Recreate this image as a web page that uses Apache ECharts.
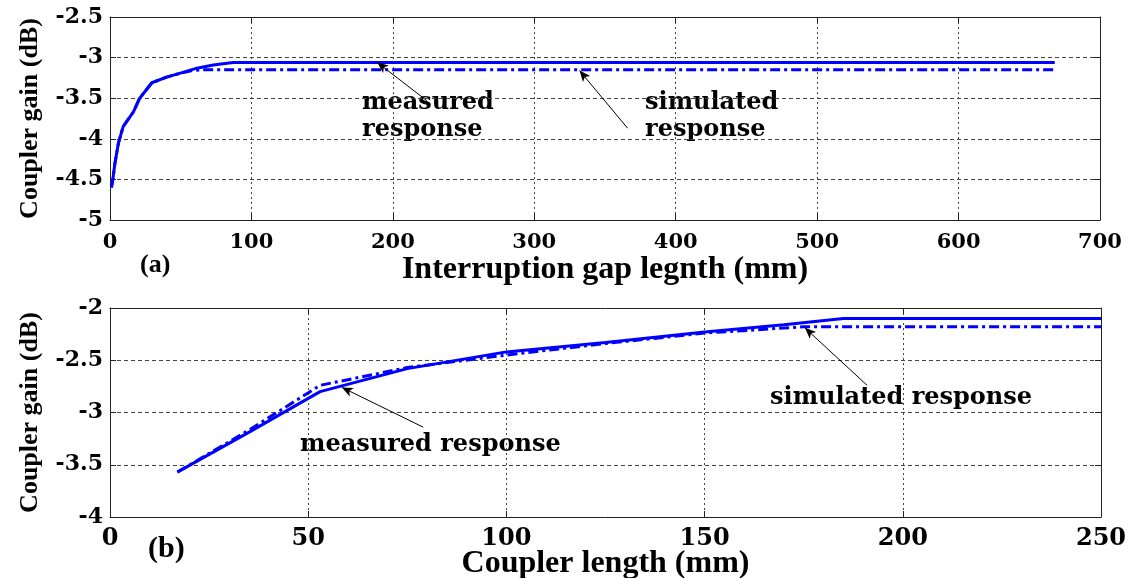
<!DOCTYPE html>
<html>
<head>
<meta charset="utf-8">
<script src="https://cdn.jsdelivr.net/npm/echarts@6/dist/echarts.min.js"></script>
<style>
html,body{margin:0;padding:0;background:#fff;}
#c{width:1134px;height:578px;}
</style>
</head>
<body>
<div id="c"></div>
<script>
// ---- data: (a) interruption gap ----
const topMeasX = [1, 2, 3.5, 6, 9.3, 16.5, 21, 29.6, 40, 48, 61.5, 73, 87, 668];
const topMeasY = [-4.6, -4.5, -4.3, -4.05, -3.85, -3.67, -3.5, -3.31, -3.24, -3.2, -3.13, -3.09, -3.06, -3.06];
const topSimX = [1, 2, 3.5, 6, 9.3, 16.5, 21, 29.6, 40, 48, 58, 64, 668];
const topSimY = [-4.6, -4.5, -4.3, -4.05, -3.85, -3.67, -3.5, -3.31, -3.24, -3.2, -3.16, -3.15, -3.15];
// ---- data: (b) coupler length ----
const botMeasX = [17, 35, 53, 75, 100, 125, 150, 170, 185, 250];
const botMeasY = [-3.57, -3.19, -2.80, -2.58, -2.42, -2.33, -2.23, -2.16, -2.10, -2.10];
const botSimX = [17, 35, 53, 75, 100, 125, 150, 175, 250];
const botSimY = [-3.57, -3.17, -2.74, -2.57, -2.45, -2.34, -2.24, -2.18, -2.18];
// ---- annotation arrows (data coords: tail -> tip) ----
const topMeasArrow = [[224, -3.53], [189, -3.06]];
const topSimArrow = [[366, -3.87], [332, -3.16]];
const botMeasArrow = [[79, -3.14], [58.5, -2.76]];
const botSimArrow = [[191, -2.74], [175.3, -2.19]];
// ---- texts ----
const yTitle = 'Coupler gain (dB)';
const topXTitle = 'Interruption gap legnth (mm)';
const botXTitle = 'Coupler length (mm)';

const zip = (xs, ys) => xs.map((x, i) => [x, ys[i]]);
const SERIF = '"Liberation Serif", "Times New Roman", serif';
const WIDE = '"DejaVu Serif", serif';
const BLUE = '#0000ff';
const GRIDC = '#444';

function mainX(gi, min, max, interval, name, fs, nameGap, labFs, labMargin) {
  return {
    type: 'value', gridIndex: gi, min, max, interval, position: 'bottom',
    name, nameLocation: 'middle', nameGap, nameMoveOverlap: false,
    nameTextStyle: {fontFamily: SERIF, fontWeight: 'bold', fontSize: fs, color: '#000'},
    axisLine: {show: true, onZero: false, lineStyle: {color: '#222', width: 1}},
    axisTick: {show: true, inside: true, length: 6, lineStyle: {color: '#222'}},
    axisLabel: {fontFamily: WIDE, fontWeight: 'bold', fontSize: labFs, color: '#000', margin: labMargin},
    splitLine: {show: true, lineStyle: {color: GRIDC, type: [2, 3], width: 1}}
  };
}
function mainY(gi, min, max, interval, labFs) {
  return {
    type: 'value', gridIndex: gi, min, max, interval, position: 'left',
    name: yTitle, nameLocation: 'middle', nameGap: 67, nameMoveOverlap: false,
    nameTextStyle: {fontFamily: SERIF, fontWeight: 'bold', fontSize: 26, color: '#000'},
    axisLine: {show: true, onZero: false, lineStyle: {color: '#222', width: 1}},
    axisTick: {show: true, inside: true, length: 6, lineStyle: {color: '#222'}},
    axisLabel: {fontFamily: WIDE, fontWeight: 'bold', fontSize: labFs, color: '#000', margin: 7},
    splitLine: {show: true, lineStyle: {color: GRIDC, type: [4, 3], width: 1}}
  };
}
function boxX(gi, min, max, interval) {
  return {type: 'value', gridIndex: gi, min, max, interval, position: 'top',
    axisLine: {show: true, onZero: false, lineStyle: {color: '#222', width: 1}},
    axisTick: {show: true, inside: true, length: 6, lineStyle: {color: '#222'}},
    axisLabel: {show: false}, splitLine: {show: false}};
}
function boxY(gi, min, max, interval) {
  return {type: 'value', gridIndex: gi, min, max, interval, position: 'right',
    axisLine: {show: true, onZero: false, lineStyle: {color: '#222', width: 1}},
    axisTick: {show: true, inside: true, length: 6, lineStyle: {color: '#222'}},
    axisLabel: {show: false}, splitLine: {show: false}};
}
function arrow(a) {
  return {
    silent: true, symbol: ['none', 'arrow'], symbolSize: [7, 11],
    lineStyle: {color: '#000', width: 1, type: 'solid'}, label: {show: false},
    data: [[{coord: a[0]}, {coord: a[1]}]], animation: false
  };
}
function line(xi, yi, data, type, ml) {
  const s = {type: 'line', xAxisIndex: xi, yAxisIndex: yi, data, showSymbol: false, symbol: 'none',
    lineStyle: {color: BLUE, width: 3, type}, animation: false, z: 3};
  if (ml) s.markLine = arrow(ml);
  return s;
}
const annoStyle = (t, x, y) => ({type: 'text', left: x, top: y,
  style: {text: t, fontFamily: WIDE, fontWeight: 'bold', fontSize: 24, fill: '#000'}});

const chart = echarts.init(document.getElementById('c'), null, {renderer: 'canvas'});
chart.setOption({
  backgroundColor: '#fff',
  grid: [
    {left: 110, top: 17, width: 990, height: 203, containLabel: false, outerBoundsMode: 'none'},
    {left: 110, top: 308, width: 991, height: 209, containLabel: false, outerBoundsMode: 'none'}
  ],
  xAxis: [
    mainX(0, 0, 700, 100, topXTitle, 32, 34, 21, 12),
    mainX(1, 0, 250, 50, botXTitle, 32, 31, 24, 10),
    boxX(0, 0, 700, 100),
    boxX(1, 0, 250, 50)
  ],
  yAxis: [
    mainY(0, -5, -2.5, 0.5, 22),
    mainY(1, -4, -2, 0.5, 22),
    boxY(0, -5, -2.5, 0.5),
    boxY(1, -4, -2, 0.5)
  ],
  series: [
    line(0, 0, zip(topMeasX, topMeasY), 'solid', topMeasArrow),
    line(0, 0, zip(topSimX, topSimY), [10, 4, 3, 4], topSimArrow),
    line(1, 1, zip(botMeasX, botMeasY), 'solid', botMeasArrow),
    line(1, 1, zip(botSimX, botSimY), [10, 4, 3, 4], botSimArrow)
  ],
  graphic: [
    annoStyle('measured', 362, 91),
    annoStyle('response', 362, 118),
    annoStyle('simulated', 645, 91),
    annoStyle('response', 645, 118),
    annoStyle('measured response', 300, 433),
    annoStyle('simulated response', 770, 386),
    {type: 'text', left: 140, top: 252, style: {text: '(a)', fontFamily: SERIF, fontWeight: 'bold', fontSize: 26, fill: '#000'}},
    {type: 'text', left: 148, top: 534, style: {text: '(b)', fontFamily: SERIF, fontWeight: 'bold', fontSize: 30, fill: '#000'}}
  ]
});
</script>
</body>
</html>
